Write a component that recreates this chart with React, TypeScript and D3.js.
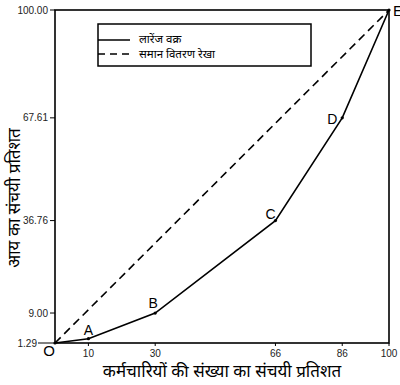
import React from "react";
import * as d3 from "d3";

const pointNames = ["O", "A", "B", "C", "D", "E"];
const employeePct = [0, 10, 30, 66, 86, 100];
const incomePct = [0, 1.29, 9, 36.76, 67.61, 100];
const xTickValues = [10, 30, 66, 86, 100];
const yTickValues = [0, 9, 36.76, 67.61, 100];
const yTickLabels = ["1.29", "9.00", "36.76", "67.61", "100.00"];
const legendLabels = ["लारेंज वक्र", "समान वितरण रेखा"];
const xTitle = "कर्मचारियों की संख्या का संचयी प्रतिशत";
const yTitle = "आय का संचयी प्रतिशत";

const W = 400, H = 385;
const L = 55, R = 389, T = 10, B = 343;
const sans = "'Liberation Sans', Arial, sans-serif";
const hindi = "'Noto Sans', 'Noto Sans Devanagari', 'Liberation Sans', sans-serif";

export default function App() {
  const x = d3.scaleLinear().domain([0, 100]).range([L, R]);
  const y = d3.scaleLinear().domain([0, 100]).range([B, T]);
  const pts = employeePct.map((v, i) => [v, incomePct[i]] as [number, number]);
  const line = d3.line<[number, number]>().x(d => x(d[0])).y(d => y(d[1]));
  const eq = line([[0, 0], [100, 100]]) || "";
  const lor = line(pts) || "";
  const labelOffsets: Record<string, [number, number]> = {
    O: [-6, 13],
    A: [0, -4],
    B: [-2, -5],
    C: [-5, -2],
    D: [-10, 6],
    E: [9, 6],
  };
  return (
    <svg width={W} height={H} style={{ position: "absolute", left: 0, top: 0, background: "#fff" }}>
      <rect x={0} y={0} width={W} height={H} fill="#fff" />
      {/* frame */}
      <rect x={L} y={T} width={R - L} height={B - T} fill="none" stroke="#000" strokeWidth={1.6} />
      {/* y ticks */}
      {yTickValues.map((v, i) => (
        <g key={"yt" + i}>
          <line x1={i === 0 ? L - 17 : L - 5} x2={L} y1={y(v)} y2={y(v)} stroke="#000" strokeWidth={1} />
          <text x={i === 0 ? L - 18 : L - 7} y={y(v)} dy="0.35em" textAnchor="end" fontFamily={sans} fontSize={10} fill="#222">
            {yTickLabels[i]}
          </text>
        </g>
      ))}
      {/* x ticks */}
      {xTickValues.map((v, i) => (
        <g key={"xt" + i}>
          <line x1={x(v)} x2={x(v)} y1={B} y2={B + 3} stroke="#000" strokeWidth={1} />
          <text x={x(v)} y={B + 14} textAnchor="middle" fontFamily={sans} fontSize={10} fill="#222">
            {v}
          </text>
        </g>
      ))}
      {/* lines */}
      <path d={eq} fill="none" stroke="#000" strokeWidth={1.6} strokeDasharray="8,5" />
      <path d={lor} fill="none" stroke="#000" strokeWidth={1.6} />
      {pts.map((p, i) => (
        <circle key={"p" + i} cx={x(p[0])} cy={y(p[1])} r={1.6} fill="#000" />
      ))}
      {pts.map((p, i) => {
        const n = pointNames[i];
        const o = labelOffsets[n];
        return (
          <text key={"l" + i} x={x(p[0]) + o[0]} y={y(p[1]) + o[1]} textAnchor="middle"
            fontFamily={sans} fontSize={n === "O" || n === "E" ? 15 : 14} fill="#000">
            {n}
          </text>
        );
      })}
      {/* legend */}
      <rect x={98} y={24} width={213} height={42} fill="#fff" stroke="#000" strokeWidth={1.5} />
      <line x1={98} x2={130} y1={40} y2={40} stroke="#000" strokeWidth={1.5} />
      <line x1={98} x2={130} y1={54} y2={54} stroke="#000" strokeWidth={1.5} strokeDasharray="7,5" />
      <text x={139} y={39.5} dy="0.3em" fontFamily={hindi} fontSize={11.5} fill="#000">{legendLabels[0]}</text>
      <text x={139} y={54.5} dy="0.3em" fontFamily={hindi} fontSize={11.5} fill="#000">{legendLabels[1]}</text>
      {/* titles */}
      <text x={(L + R) / 2} y={377} textAnchor="middle" fontFamily={hindi} fontSize={17} fill="#000">{xTitle}</text>
      <text transform={`translate(20, 198) rotate(-90)`} textAnchor="middle" fontFamily={hindi} fontSize={17} fill="#000">{yTitle}</text>
    </svg>
  );
}
